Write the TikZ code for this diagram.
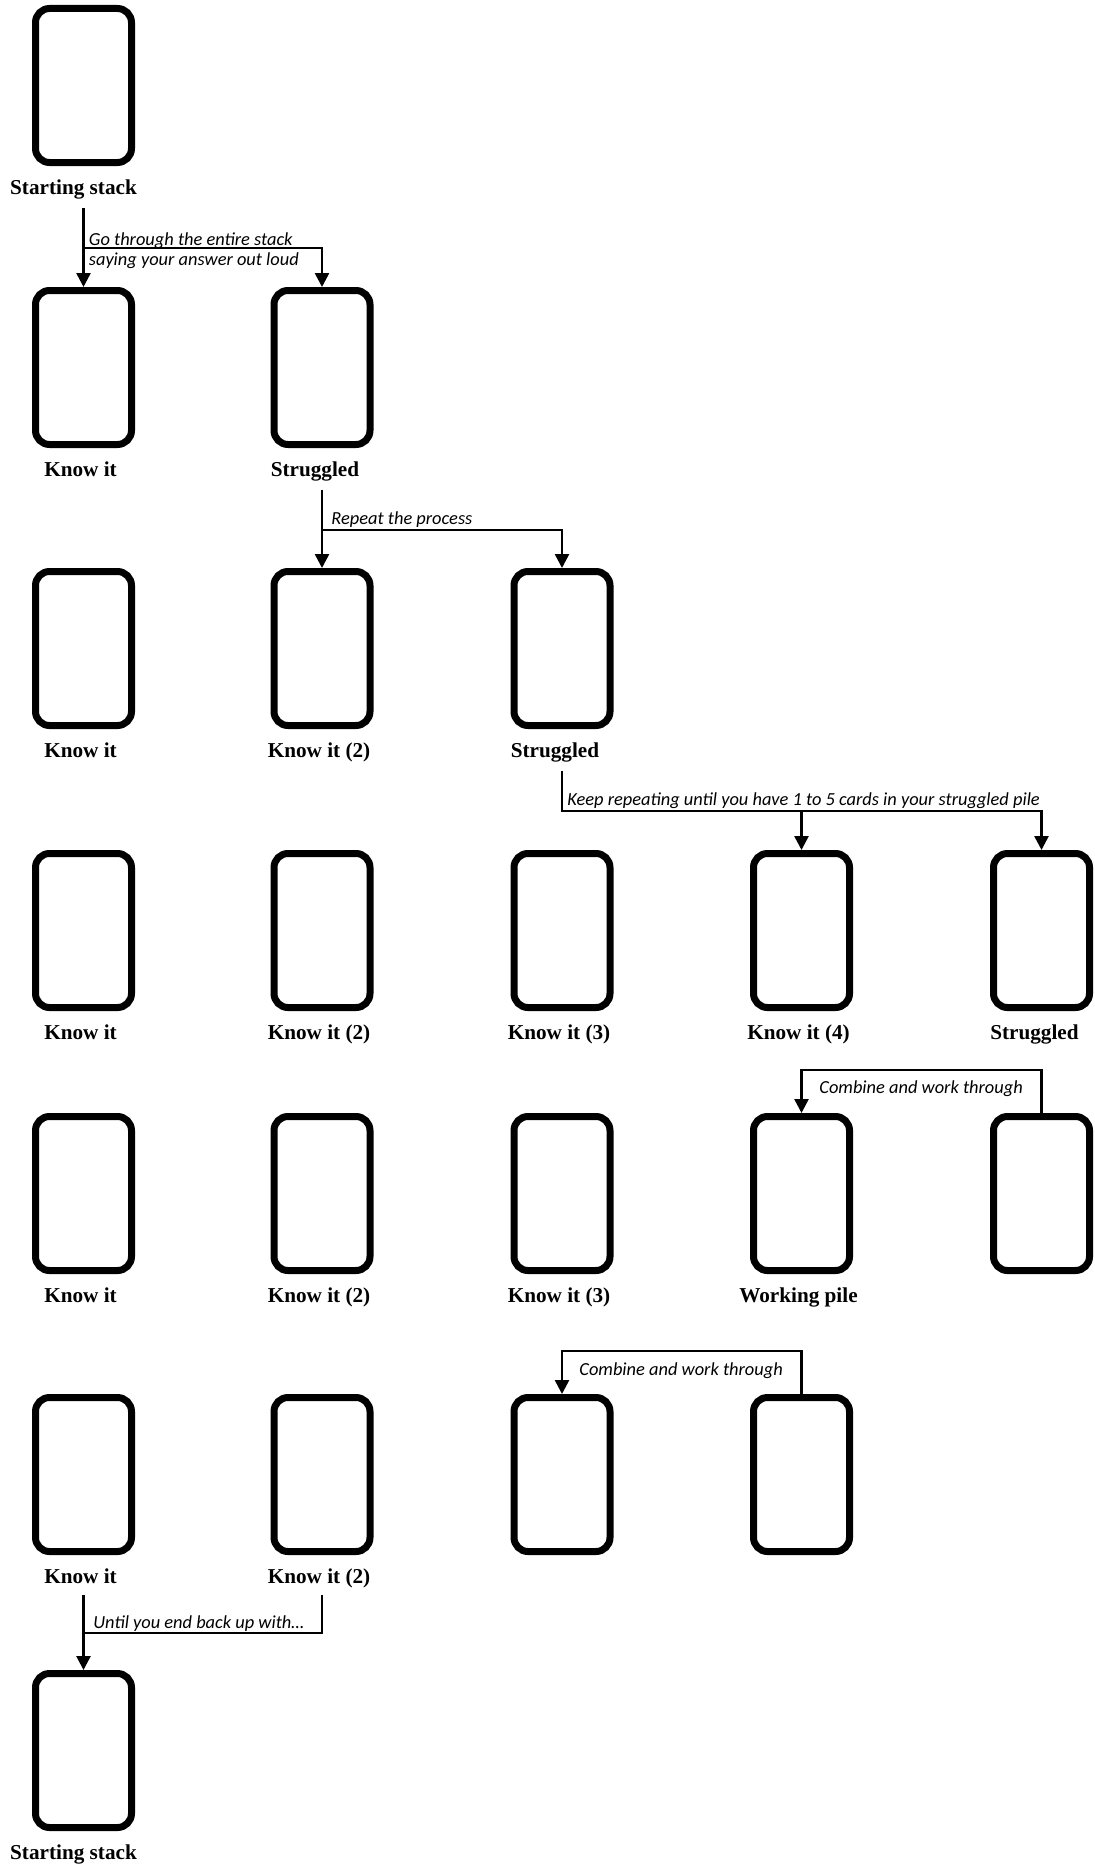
\documentclass[tikz,border=0pt]{standalone}
\usepackage{fontspec}
\setmainfont{Liberation Serif}
\newfontfamily\notefont{Carlito}
\usetikzlibrary{arrows.meta}

\begin{document}
\begin{tikzpicture}[
    x=0.5pt,y=-0.5pt,
    card/.style={draw,line width=3.5pt,rounded corners=7pt,
                 minimum width=48pt,minimum height=77pt,inner sep=0pt},
    pilename/.style={anchor=base,font=\bfseries\fontsize{10.6}{12}\selectfont,
                inner sep=0pt,xshift=-1.5pt},
    msg/.style={-{Triangle[length=7pt,width=7pt]},line width=1.3pt},
    wire/.style={line width=1.3pt},
    note/.style={anchor=base west,inner sep=0pt,
                 font=\notefont\itshape\fontsize{9.2}{11}\selectfont}
  ]
    \useasboundingbox (0,0) rectangle (1094,1868);

    % row 1
    \node[card] (a1) at (83.5,85.5) {};
    \node[pilename,xshift=-3.5pt] (la1) at ([yshift=-14pt]a1.south) {Starting stack};

    % row 2
    \node[card] (b1) at (83.5,367.5) {};
    \node[card] (b2) at (322,367.5) {};
    \node[pilename] (lb1) at ([yshift=-14pt]b1.south) {Know it};
    \node[pilename,xshift=-2pt] (lb2) at ([yshift=-14pt]b2.south) {Struggled};

    % row 3
    \node[card] (c1) at (83.5,648.5) {};
    \node[card] (c2) at (322,648.5) {};
    \node[card] (c3) at (562,648.5) {};
    \node[pilename] (lc1) at ([yshift=-14pt]c1.south) {Know it};
    \node[pilename] (lc2) at ([yshift=-14pt]c2.south) {Know it (2)};
    \node[pilename,xshift=-2pt] (lc3) at ([yshift=-14pt]c3.south) {Struggled};

    % row 4
    \node[card] (d1) at (83.5,930.5) {};
    \node[card] (d2) at (322,930.5) {};
    \node[card] (d3) at (562,930.5) {};
    \node[card] (d4) at (801.5,930.5) {};
    \node[card] (d5) at (1041.5,930.5) {};
    \node[pilename] (ld1) at ([yshift=-14pt]d1.south) {Know it};
    \node[pilename] (ld2) at ([yshift=-14pt]d2.south) {Know it (2)};
    \node[pilename] (ld3) at ([yshift=-14pt]d3.south) {Know it (3)};
    \node[pilename] (ld4) at ([yshift=-14pt]d4.south) {Know it (4)};
    \node[pilename,xshift=-2pt] (ld5) at ([yshift=-14pt]d5.south) {Struggled};

    % row 5
    \node[card] (e1) at (83.5,1193.5) {};
    \node[card] (e2) at (322,1193.5) {};
    \node[card] (e3) at (562,1193.5) {};
    \node[card] (e4) at (801.5,1193.5) {};
    \node[card] (e5) at (1041.5,1193.5) {};
    \node[pilename] (le1) at ([yshift=-14pt]e1.south) {Know it};
    \node[pilename] (le2) at ([yshift=-14pt]e2.south) {Know it (2)};
    \node[pilename] (le3) at ([yshift=-14pt]e3.south) {Know it (3)};
    \node[pilename] (le4) at ([yshift=-14pt]e4.south) {Working pile};

    % row 6
    \node[card] (f1) at (83.5,1474.5) {};
    \node[card] (f2) at (322,1474.5) {};
    \node[card] (f3) at (562,1474.5) {};
    \node[card] (f4) at (801.5,1474.5) {};
    \node[pilename] (lf1) at ([yshift=-14pt]f1.south) {Know it};
    \node[pilename] (lf2) at ([yshift=-14pt]f2.south) {Know it (2)};

    % row 7
    \node[card] (g1) at (83.5,1750.5) {};
    \node[pilename,xshift=-3.5pt] (lg1) at ([yshift=-14pt]g1.south) {Starting stack};

    % connectors
    \coordinate (j1) at ([yshift=-41pt]a1.south);
    \draw[msg] ([yshift=-21pt]a1.south) -- (b1.north);
    \draw[msg] (j1) -| (b2.north);
    \node[note] (n1a) at ([xshift=2.5pt,yshift=1.5pt]j1) {Go through the entire stack};
    \node[note] (n1b) at ([xshift=2.5pt,yshift=-8.5pt]j1) {saying your answer out loud};

    \coordinate (j2) at ([yshift=-41pt]b2.south);
    \draw[msg] ([yshift=-21pt]b2.south) -- (c2.north);
    \draw[msg] (j2) -| (c3.north);
    \node[note] (n2) at ([xshift=4.5pt,yshift=3pt]j2) {Repeat the process};

    \coordinate (j3) at ([yshift=-41pt]c3.south);
    \draw[msg] ([yshift=-21pt]c3.south) -- (j3) -| (d5.north);
    \draw[msg] (j3 -| d4.north) -- (d4.north);
    \node[note] (n3) at ([xshift=2.5pt,yshift=3pt]j3) {Keep repeating until you have 1 to 5 cards in your struggled pile};

    \coordinate (j4) at ([yshift=21.5pt]e4.north);
    \draw[msg] (e5.north) |- (j4) -- (e4.north);
    \node[note] (n4) at ([xshift=8.75pt,yshift=-11.5pt]j4) {Combine and work through};

    \coordinate (j5) at ([yshift=21.5pt]f3.north);
    \draw[msg] (f4.north) |- (j5) -- (f3.north);
    \node[note] (n5) at ([xshift=8.5pt,yshift=-12pt]j5) {Combine and work through};

    \coordinate (j6) at ([yshift=-39pt]f1.south);
    \draw[wire] ([yshift=-20pt]f2.south) |- (j6);
    \draw[msg] ([yshift=-20pt]f1.south) -- (g1.north);
    \node[note] (n6) at ([xshift=4.75pt,yshift=2.5pt]j6) {Until you end back up with…};
  \end{tikzpicture}
\end{document}
